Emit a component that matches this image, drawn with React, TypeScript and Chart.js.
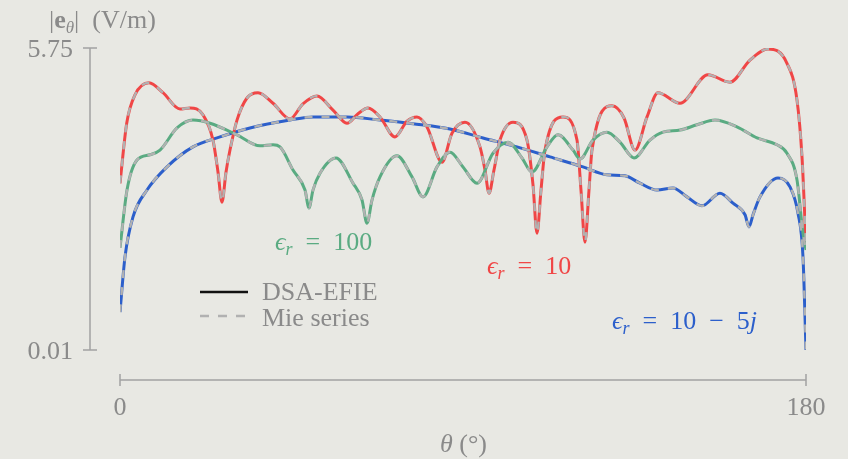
import React, { useEffect, useRef } from "react";
import { Chart, registerables } from "chart.js";

Chart.register(...registerables);

// ---- data (θ in degrees, |eθ| in V/m) ----
const redTheta = [0, 1.76, 3.94, 7.61, 11.28, 15.74, 18.37, 21.78, 24.4, 25.72, 26.76, 27.81, 28.86, 30.7, 33.32, 36.21, 40.15, 44.61, 48.0, 51.69, 55.89, 59.56, 62.45, 65.07, 68.22, 72.16, 75.31, 77.93, 80.55, 84.49, 87.11, 90.52, 94.46, 95.77, 96.82, 98.13, 99.71, 103.12, 106.79, 108.37, 109.41, 110.47, 111.52, 116.24, 119.91, 120.96, 122.01, 123.06, 123.85, 129.09, 132.25, 135.13, 138.28, 141.16, 146.94, 154.28, 160.05, 165.31, 170.03, 175.01, 177.64, 178.95, 180];
const redVal = [3.18, 4.32, 4.86, 5.09, 4.9, 4.59, 4.61, 4.48, 4.0, 3.39, 2.82, 3.39, 3.81, 4.38, 4.8, 4.9, 4.7, 4.4, 4.69, 4.84, 4.57, 4.32, 4.5, 4.61, 4.44, 4.06, 4.36, 4.44, 4.25, 3.58, 4.13, 4.34, 3.87, 3.43, 2.99, 3.43, 4.0, 4.34, 4.0, 3.15, 2.23, 3.05, 3.81, 4.44, 4.0, 3.05, 2.06, 3.05, 3.81, 4.65, 4.42, 3.81, 4.44, 4.9, 4.7, 5.24, 5.1, 5.52, 5.73, 5.46, 4.76, 3.68, 2.01];

const greenTheta = [0, 1.84, 4.46, 7.87, 10.5, 14.96, 19.15, 23.62, 30.7, 36.73, 40.15, 41.98, 45.39, 48.54, 49.59, 50.64, 52.48, 56.68, 61.14, 63.5, 64.81, 66.12, 68.22, 72.68, 76.62, 79.5, 83.18, 86.59, 90.0, 93.67, 97.87, 101.81, 105.48, 108.1, 112.04, 114.93, 118.86, 120.7, 124.11, 127.78, 131.19, 134.87, 139.07, 142.48, 146.94, 151.4, 156.12, 161.89, 167.14, 172.39, 175.01, 177.64, 179.21, 180];
const greenVal = [1.95, 3.05, 3.62, 3.72, 3.81, 4.23, 4.38, 4.32, 4.1, 3.89, 3.91, 3.87, 3.43, 3.05, 2.71, 3.05, 3.37, 3.66, 3.18, 2.86, 2.42, 2.86, 3.3, 3.7, 3.3, 2.92, 3.49, 3.77, 3.49, 3.18, 3.75, 3.96, 3.66, 3.39, 3.87, 4.1, 3.81, 3.64, 4.0, 4.15, 3.96, 3.66, 4.0, 4.15, 4.19, 4.29, 4.38, 4.25, 4.04, 3.91, 3.75, 3.24, 2.23, 1.91];

const blueTheta = [0, 1.31, 3.41, 7.08, 12.33, 19.15, 26.24, 34.11, 44.61, 50.64, 59.56, 68.22, 76.88, 86.59, 95.25, 104.17, 112.83, 121.49, 127.78, 132.5, 136.44, 140.9, 145.1, 148.77, 152.71, 157.43, 160.84, 164.0, 165.04, 166.1, 167.93, 172.65, 175.8, 177.9, 179.21, 180];
const blueVal = [0.73, 1.78, 2.54, 3.05, 3.49, 3.87, 4.06, 4.23, 4.38, 4.44, 4.44, 4.38, 4.31, 4.21, 4.04, 3.87, 3.68, 3.49, 3.34, 3.32, 3.18, 3.05, 3.09, 2.92, 2.75, 2.99, 2.8, 2.58, 2.35, 2.58, 2.92, 3.28, 3.11, 2.61, 1.78, 0.01];

const xTicks = [0, 180];
const yTicks = [0.01, 5.75];
const legendLabels = ["DSA-EFIE", "Mie series"];
const seriesNames = ["100", "10", "10\u2002\u2212\u20025"];

const RED = "#f04646";
const GREEN = "#5aab82";
const BLUE = "#2c5fcb";
const DASH_GRAY = "#b1b1b1";
const TEXT_GRAY = "#8a8a8a";
const AXIS_GRAY = "#a2a2a2";
const BG = "#e8e8e3";
const SERIF = "'Liberation Serif', 'DejaVu Serif', serif";

function pts(t: number[], v: number[]) {
  return t.map((x, i) => ({ x, y: v[i] }));
}

type Run = { t: string; f: string; dy?: number };
function drawRuns(ctx: CanvasRenderingContext2D, runs: Run[], x: number, y: number, color: string) {
  ctx.fillStyle = color;
  ctx.textAlign = "left";
  ctx.textBaseline = "alphabetic";
  let cx = x;
  for (const r of runs) {
    ctx.font = r.f;
    ctx.fillText(r.t, cx, y + (r.dy || 0));
    cx += ctx.measureText(r.t).width;
  }
}

const F = (s: number, style = "") => `${style} ${s}px ${SERIF}`.trim();

const axesPlugin = {
  id: "pgfAxes",
  afterDraw(chart: any) {
    const { ctx, scales } = chart;
    const xs = scales.x;
    const ys = scales.y;
    ctx.save();
    ctx.strokeStyle = AXIS_GRAY;
    ctx.lineWidth = 1.5;
    // y axis (shifted left)
    const axX = xs.left - 30;
    const yTop = ys.getPixelForValue(yTicks[yTicks.length - 1]);
    const yBot = ys.getPixelForValue(yTicks[0]);
    ctx.beginPath();
    ctx.moveTo(axX, yTop);
    ctx.lineTo(axX, yBot);
    ctx.stroke();
    ctx.font = F(26);
    ctx.fillStyle = TEXT_GRAY;
    ctx.textAlign = "right";
    ctx.textBaseline = "middle";
    for (const t of yTicks) {
      const py = ys.getPixelForValue(t);
      ctx.beginPath();
      ctx.moveTo(axX - 7, py);
      ctx.lineTo(axX + 7, py);
      ctx.stroke();
      ctx.fillText(t.toFixed(2), axX - 17, py + 2);
    }
    // x axis (shifted down)
    const axY = ys.bottom + 30;
    const x0 = xs.getPixelForValue(xTicks[0]);
    const x1 = xs.getPixelForValue(xTicks[xTicks.length - 1]);
    ctx.beginPath();
    ctx.moveTo(x0, axY);
    ctx.lineTo(x1, axY);
    ctx.stroke();
    ctx.textAlign = "center";
    for (const t of xTicks) {
      const px = xs.getPixelForValue(t);
      ctx.beginPath();
      ctx.moveTo(px, axY - 6);
      ctx.lineTo(px, axY + 6);
      ctx.stroke();
      ctx.fillText(String(t), px, axY + 28);
    }
    // x title
    drawRuns(ctx, [
      { t: "\u03B8", f: F(26, "italic") },
      { t: " (\u00B0)", f: F(26) },
    ], 440, 452, TEXT_GRAY);
    // y title
    drawRuns(ctx, [
      { t: "|", f: F(26) },
      { t: "e", f: F(26, "bold") },
      { t: "\u03B8", f: F(17, "italic"), dy: 5 },
      { t: "|\u2002(V/m)", f: F(26) },
    ], 49, 28, TEXT_GRAY);

    // legend
    ctx.lineWidth = 2.5;
    ctx.strokeStyle = "#111111";
    ctx.beginPath();
    ctx.moveTo(200, 292);
    ctx.lineTo(248, 292);
    ctx.stroke();
    ctx.strokeStyle = DASH_GRAY;
    ctx.setLineDash([9, 9]);
    ctx.beginPath();
    ctx.moveTo(200, 316);
    ctx.lineTo(248, 316);
    ctx.stroke();
    ctx.setLineDash([]);
    drawRuns(ctx, [{ t: legendLabels[0], f: F(26) }], 262, 300, TEXT_GRAY);
    drawRuns(ctx, [{ t: legendLabels[1], f: F(26) }], 262, 326, TEXT_GRAY);

    // series labels
    const lab = (name: string, x: number, y: number, c: string, j = false) => {
      const runs: Run[] = [
        { t: "\u03F5", f: F(26, "italic") },
        { t: "r", f: F(18, "italic"), dy: 5 },
        { t: "\u2002=\u2002" + name, f: F(26) },
      ];
      if (j) runs.push({ t: "j", f: F(26, "italic") });
      drawRuns(ctx, runs, x, y, c);
    };
    lab(seriesNames[0], 275, 250, GREEN);
    lab(seriesNames[1], 487, 274, RED);
    lab(seriesNames[2], 612, 329, BLUE, true);
    ctx.restore();
  },
};

export default function App() {
  const ref = useRef<HTMLCanvasElement | null>(null);
  useEffect(() => {
    if (!ref.current) return;
    const common = {
      pointRadius: 0,
      cubicInterpolationMode: "monotone" as const,
      fill: false,
    };
    const dashed = { borderColor: DASH_GRAY, borderWidth: 2.4, borderDash: [8, 9], order: 1 };
    const solid = { borderWidth: 3, order: 2 };
    const chart = new Chart(ref.current, {
      type: "line",
      data: {
        datasets: [
          { ...common, ...dashed, label: "Mie 100", data: pts(greenTheta, greenVal) },
          { ...common, ...dashed, label: "Mie 10", data: pts(redTheta, redVal) },
          { ...common, ...dashed, label: "Mie 10-5j", data: pts(blueTheta, blueVal) },
          { ...common, ...solid, label: "DSA 100", data: pts(greenTheta, greenVal), borderColor: GREEN },
          { ...common, ...solid, label: "DSA 10", data: pts(redTheta, redVal), borderColor: RED },
          { ...common, ...solid, label: "DSA 10-5j", data: pts(blueTheta, blueVal), borderColor: BLUE },
        ],
      },
      options: {
        responsive: false,
        animation: false,
        devicePixelRatio: 1,
        layout: { padding: { left: 120, right: 42, top: 48, bottom: 109 } },
        plugins: { legend: { display: false }, tooltip: { enabled: false } },
        scales: {
          x: { type: "linear", min: 0, max: 180, display: false },
          y: { type: "linear", min: 0.01, max: 5.75, display: false },
        },
      },
      plugins: [axesPlugin],
    });
    return () => chart.destroy();
  }, []);
  return (
    <div style={{ position: "fixed", left: 0, top: 0, width: 848, height: 459, background: BG }}>
      <canvas ref={ref} width={848} height={459} style={{ display: "block" }} />
    </div>
  );
}
